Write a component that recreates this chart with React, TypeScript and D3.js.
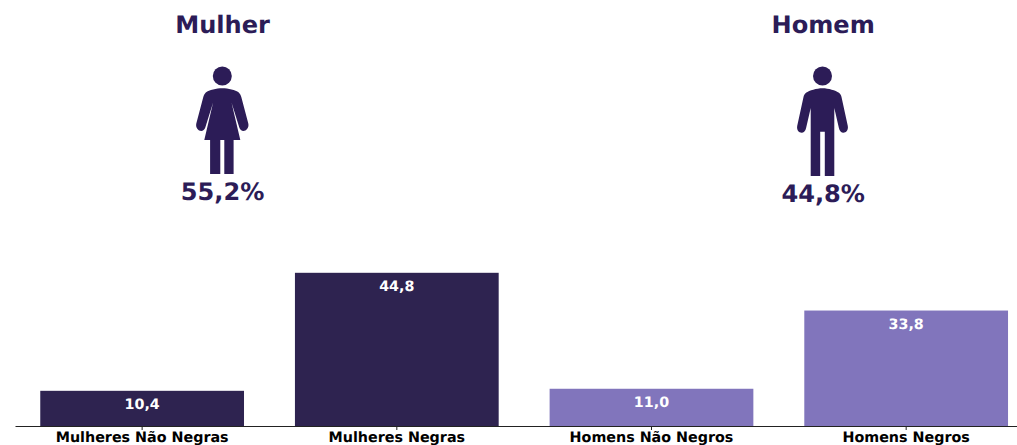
import React from "react";
import * as d3 from "d3";

const categories = ["Mulheres Não Negras", "Mulheres Negras", "Homens Não Negros", "Homens Negros"];
const values = [10.4, 44.8, 11.0, 33.8];
const valueLabels = ["10,4", "44,8", "11,0", "33,8"];
const groups = ["Mulher", "Homem"];
const groupShares = ["55,2%", "44,8%"];

const W = 1017;
const H = 445;
const FONT = "'DejaVu Sans', sans-serif";
const DARK = "#2E2350";
const TEXT = "#2C1C57";
const LIGHT = "#8175BC";
const BASE = 426.5;

const x = d3.scaleBand<string>().domain(categories).range([14.8, 1033.5]).paddingInner(0.2).paddingOuter(0.1);
const y = d3.scaleLinear().domain([0, 44.8]).range([BASE, 272.8]);
const barColor = d3.scaleOrdinal<string, string>().domain(categories).range([DARK, DARK, LIGHT, LIGHT]);

const womanPath =
  "M0,12.3 C6,12.3 13,14 16.5,16.5 C18,18 18.6,19.5 19,21 L26,47.5 C27.5,54.5 19,58 17,51.5 L9.2,26.5 L18,64 L11.3,64 L11.3,98 L2,98 L2,64 L-2,64 L-2,98 L-12.2,98 L-12.2,64 L-18,64 L-9.2,26.5 L-17,51.5 C-19,58 -27.5,54.5 -26,47.5 L-19,21 C-18.6,19.5 -18,18 -16.5,16.5 C-13,14 -6,12.3 0,12.3 Z";
const manPath =
  "M0,12.3 C6,12.3 13,14.5 16.5,16.8 C18,18 18.6,19.5 19,21 L25.3,50 C26.6,57.5 17.6,59.5 16.4,52 L11.8,32 L11.8,100 L2.3,100 L2.3,55.7 L-2.3,55.7 L-2.3,100 L-11.8,100 L-11.8,32 L-16.4,52 C-17.6,59.5 -26.6,57.5 -25.3,50 L-19,21 C-18.6,19.5 -18,18 -16.5,16.8 C-13,14.5 -6,12.3 0,12.3 Z";
const iconPaths = [womanPath, manPath];
const iconX = [222.3, 822.5];
const headingX = [222.6, 823.2];
const shareY = [200, 202];

export default function App() {
  return (
    <svg width={W} height={H} viewBox={`0 0 ${W} ${H}`} style={{ position: "absolute", left: 0, top: 0, background: "#fff" }} fontFamily={FONT} textRendering="geometricPrecision">
      {groups.map((g, i) => (
        <g key={g}>
          <text x={headingX[i]} y={33} textAnchor="middle" fontSize={24.1} fontWeight="bold" fill={TEXT}>{g}</text>
          <g transform={`translate(${iconX[i]},76)`} fill={TEXT}>
            <circle r={9.5} />
            <path d={iconPaths[i]} />
          </g>
          <text x={headingX[i]} y={shareY[i]} textAnchor="middle" fontSize={24.1} fontWeight="bold" fill={TEXT}>{groupShares[i]}</text>
        </g>
      ))}
      {categories.map((c, i) => (
        <g key={c}>
          <rect x={x(c)} y={y(values[i])} width={x.bandwidth()} height={BASE - y(values[i])} fill={barColor(c)} />
          <text x={x(c)! + x.bandwidth() / 2} y={y(values[i]) + 18} textAnchor="middle" fontSize={14.3} fontWeight="bold" fill="#fff">{valueLabels[i]}</text>
          <line x1={x(c)! + x.bandwidth() / 2} x2={x(c)! + x.bandwidth() / 2} y1={BASE} y2={BASE + 3.5} stroke="#222" strokeWidth={1} />
          <text x={x(c)! + x.bandwidth() / 2} y={441.5} textAnchor="middle" fontSize={14.3} fontWeight="bold" fill="#000">{c}</text>
        </g>
      ))}
      <line x1={15.5} x2={1017} y1={BASE} y2={BASE} stroke="#222" strokeWidth={1} />
    </svg>
  );
}
